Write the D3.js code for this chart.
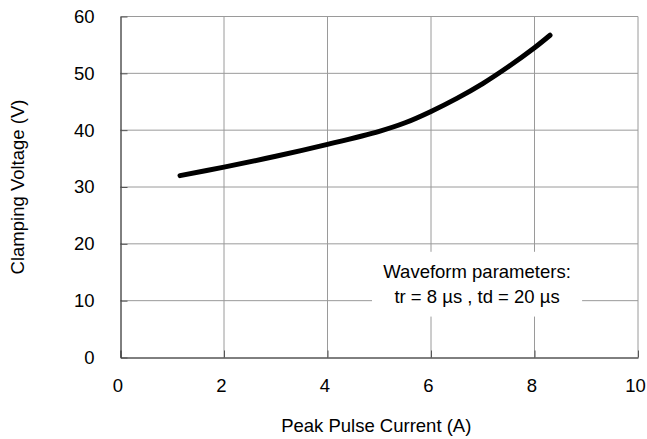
<!DOCTYPE html>
<html>
<head>
<meta charset="utf-8">
<script src="https://cdn.jsdelivr.net/npm/d3@7"></script>
<style>
  body { margin: 0; background: #fff; }
  text { font-family: Arial, "Liberation Sans", sans-serif; fill: #000; }
</style>
</head>
<body>
<div id="chart"></div>
<script>
  // data
  var current = [1.15, 2, 3, 4, 5, 5.5, 6, 6.5, 7, 7.5, 8, 8.3];
  var voltage = [32.0, 33.5, 35.4, 37.5, 39.8, 41.3, 43.3, 45.6, 48.2, 51.2, 54.5, 56.7];
  var xTicks = [0, 2, 4, 6, 8, 10];
  var yTicks = [0, 10, 20, 30, 40, 50, 60];
  var noteLines = ["Waveform parameters:", "tr = 8 µs , td = 20 µs"];

  var W = 647, H = 439;
  var margin = { top: 16.5, right: 9, bottom: 81.5, left: 120.5 };
  var width = W - margin.left - margin.right;
  var height = H - margin.top - margin.bottom;
  var fontSize = "18.5px";

  var svg = d3.select("#chart").append("svg")
    .attr("width", W).attr("height", H)
    .append("g")
    .attr("transform", "translate(" + margin.left + "," + margin.top + ")");

  var x = d3.scaleLinear().domain([0, 10]).range([0, width]);
  var y = d3.scaleLinear().domain([0, 60]).range([height, 0]);

  // grid
  svg.append("g").selectAll("line.v")
    .data(xTicks.slice(1))
    .enter().append("line")
    .attr("x1", function (d) { return x(d); }).attr("x2", function (d) { return x(d); })
    .attr("y1", 0).attr("y2", height)
    .attr("stroke", "#9a9a9a").attr("stroke-width", 1);
  svg.append("g").selectAll("line.h")
    .data(yTicks.slice(1))
    .enter().append("line")
    .attr("x1", 0).attr("x2", width)
    .attr("y1", function (d) { return y(d); }).attr("y2", function (d) { return y(d); })
    .attr("stroke", "#9a9a9a").attr("stroke-width", 1);

  // note box
  var noteX = x(6.89), noteY = y(14.0);
  svg.append("rect")
    .attr("x", x(4.86)).attr("y", y(18.6))
    .attr("width", x(8.92) - x(4.86)).attr("height", y(7.2) - y(18.6))
    .attr("fill", "#fff");
  svg.append("g").selectAll("text")
    .data(noteLines)
    .enter().append("text")
    .attr("x", noteX)
    .attr("y", function (d, i) { return noteY + i * 25; })
    .attr("text-anchor", "middle")
    .style("font-size", fontSize)
    .text(function (d) { return d; });

  // axes
  var xAxis = svg.append("g")
    .attr("transform", "translate(0," + height + ")")
    .call(d3.axisBottom(x).tickValues(xTicks).tickSizeInner(-7).tickSizeOuter(0).tickPadding(21));
  var yAxis = svg.append("g")
    .call(d3.axisLeft(y).tickValues(yTicks).tickSizeInner(-7).tickSizeOuter(0).tickPadding(26));
  [xAxis, yAxis].forEach(function (a) {
    a.select(".domain").attr("stroke", "#000");
    a.selectAll(".tick line").attr("stroke", "#555");
    a.selectAll(".tick text").style("font-size", fontSize).style("font-family", "Arial, 'Liberation Sans', sans-serif");
  });
  xAxis.selectAll(".tick text").attr("dx", -3);

  // curve
  var pts = current.map(function (c, i) { return [c, voltage[i]]; });
  svg.append("path")
    .datum(pts)
    .attr("fill", "none")
    .attr("stroke", "#000")
    .attr("stroke-width", 5)
    .attr("stroke-linecap", "round")
    .attr("stroke-linejoin", "round")
    .attr("d", d3.line()
      .x(function (d) { return x(d[0]); })
      .y(function (d) { return y(d[1]); })
      .curve(d3.curveCatmullRom.alpha(0.5)));

  // axis titles
  svg.append("text")
    .attr("x", x(5) - 3).attr("y", height + 74)
    .attr("text-anchor", "middle")
    .style("font-size", fontSize)
    .text("Peak Pulse Current (A)");
  svg.append("text")
    .attr("transform", "translate(" + (-margin.left + 24) + "," + (height / 2 + 0) + ") rotate(-90)")
    .attr("text-anchor", "middle")
    .style("font-size", fontSize)
    .text("Clamping Voltage (V)");
</script>
</body>
</html>
